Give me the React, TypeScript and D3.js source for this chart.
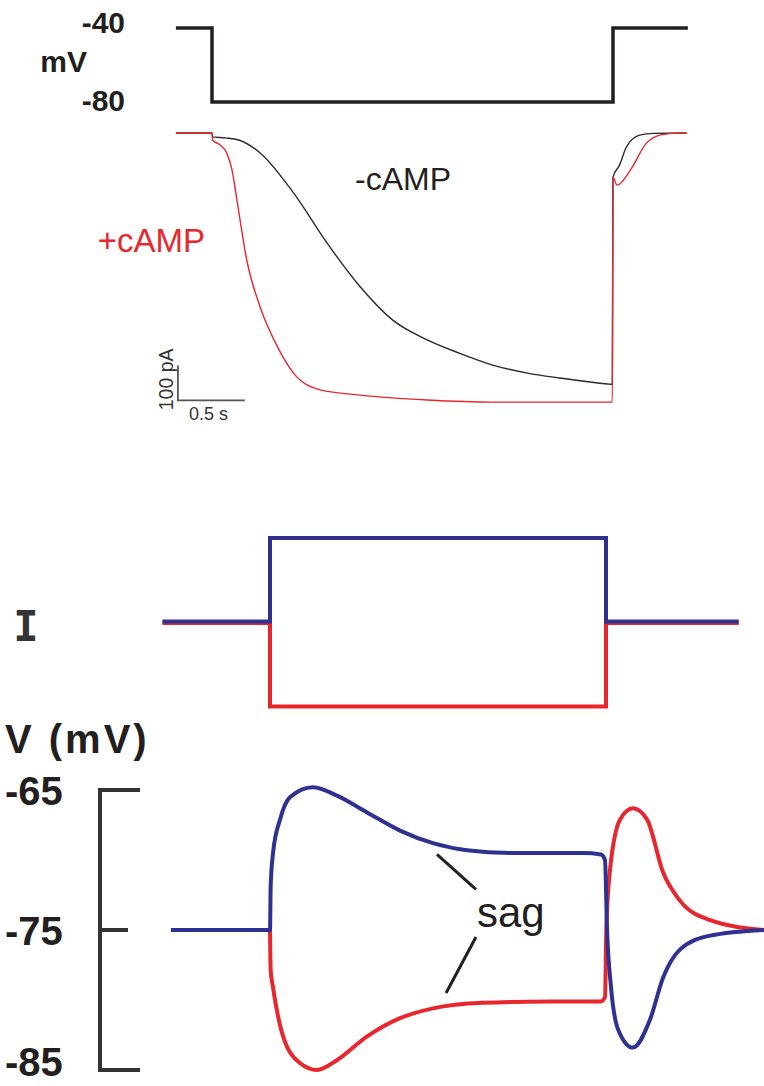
import React, { useEffect, useRef } from 'react';
import * as d3 from 'd3';

type Pt = [number, number];

// voltage-clamp command (s, mV)
const commandStep: Pt[] = [[-0.27, -40], [0, -40], [0, -80], [3, -80], [3, -40], [3.56, -40]];

// Ih current traces (s, pA)
const currentNoCamp: Pt[] = [
  [-0.27, 0], [0, 0], [0.004, -11], [0.1, -14], [0.2, -20], [0.36, -57], [0.61, -171], [0.86, -314],
  [1.11, -440], [1.35, -534], [1.61, -591], [1.85, -629], [2.1, -663], [2.36, -686], [2.6, -700],
  [2.96, -717], [2.995, -718], [3.0, -126], [3.05, -91], [3.1, -40], [3.2, -6], [3.3, -1], [3.55, 0],
];
const currentCamp: Pt[] = [
  [-0.27, 0], [0, 0], [0.004, -20], [0.06, -34], [0.11, -57], [0.15, -106], [0.19, -200], [0.26, -363],
  [0.36, -497], [0.49, -611], [0.61, -686], [0.81, -734], [1.11, -749], [1.61, -763], [2.1, -769],
  [2.995, -769], [3.0, -126], [3.03, -149], [3.13, -106], [3.25, -29], [3.35, -6], [3.45, -1], [3.55, 0],
];

// current-clamp injection (ms, relative amplitude)
const injectDepol: Pt[] = [[-320, 0], [0, 0], [0, 1], [1000, 1], [1000, 0], [1395, 0]];
const injectHyper: Pt[] = [[-320, 0], [0, 0], [0, -1], [1000, -1], [1000, 0], [1395, 0]];

// membrane voltage responses (ms, mV)
const voltageDepol: Pt[] = [
  [-295, -75], [0, -75], [2, -71.9], [9, -69.5], [30, -67.1], [60, -65.5], [128, -64.8], [199, -65.4],
  [289, -66.6], [387, -67.9], [485, -68.8], [586, -69.3], [735, -69.5], [932, -69.5], [985, -69.6],
  [997, -70], [1003, -74.9], [1015, -79.1], [1036, -82.1], [1080, -83.4], [1131, -81.4], [1170, -78.4],
  [1220, -76.4], [1310, -75.4], [1470, -75],
];
const voltageHyper: Pt[] = [
  [0, -75], [2, -77.9], [9, -79.1], [39, -82.6], [89, -84.5], [140, -85], [199, -84.3], [289, -82.6],
  [387, -81.3], [485, -80.6], [634, -80.2], [833, -80.1], [985, -80.1], [997, -79.8], [1001, -74.9],
  [1012, -70.7], [1042, -67.1], [1080, -66.3], [1122, -67.1], [1170, -70.9], [1220, -72.9],
  [1310, -74.3], [1470, -75],
];

const stepTicks = [-40, -80];
const vTicks = [-65, -75, -85];
// "sag" pointer ends (ms, mV)
const sagPointers: [Pt, Pt][] = [
  [[497, -69.6], [613, -72.1]],
  [[613, -75.5], [524, -79.5]],
];

const INK = '#231f20';
const RED = '#e8262e';
const BLUE = '#2e3192';
const SANS = 'Liberation Sans, Arial, sans-serif';

const App = () => {
  const svgRef = useRef<SVGSVGElement | null>(null);

  useEffect(() => {
    const svg = d3.select(svgRef.current);
    svg.selectAll('*').remove();

    // ---- top: voltage clamp ----
    const xTime = d3.scaleLinear().domain([0, 3]).range([212, 613]);
    const yCmd = d3.scaleLinear().domain([-40, -80]).range([28, 102]);
    const yCur = d3.scaleLinear().domain([0, -800]).range([133, 413]);

    const cmdLine = d3.line<Pt>().x(d => xTime(d[0])).y(d => yCmd(d[1]));
    svg.append('path')
      .attr('d', cmdLine(commandStep))
      .attr('fill', 'none')
      .attr('stroke', INK)
      .attr('stroke-width', 3.5);

    stepTicks.forEach((v, i) => {
      svg.append('text')
        .attr('x', 125)
        .attr('y', yCmd(v) + (i === 0 ? 5 : 9))
        .attr('text-anchor', 'end')
        .attr('font-family', SANS)
        .attr('font-weight', 'bold')
        .attr('font-size', 30)
        .attr('fill', INK)
        .text(String(v));
    });
    svg.append('text')
      .attr('x', 87).attr('y', 72)
      .attr('text-anchor', 'end')
      .attr('font-family', SANS)
      .attr('font-weight', 'bold')
      .attr('font-size', 30)
      .attr('fill', INK)
      .text('mV');

    const curLine = d3.line<Pt>().x(d => xTime(d[0])).y(d => yCur(d[1])).curve(d3.curveMonotoneX);
    svg.append('path')
      .attr('d', curLine(currentNoCamp))
      .attr('fill', 'none')
      .attr('stroke', '#2a2a2a')
      .attr('stroke-width', 1.4);
    svg.append('path')
      .attr('d', curLine(currentCamp))
      .attr('fill', 'none')
      .attr('stroke', RED)
      .attr('stroke-width', 1.4);

    svg.append('text')
      .attr('x', 355).attr('y', 190)
      .attr('font-family', SANS)
      .attr('font-size', 32)
      .attr('fill', INK)
      .text('-cAMP');
    svg.append('text')
      .attr('x', 205).attr('y', 252)
      .attr('text-anchor', 'end')
      .attr('font-family', SANS)
      .attr('font-size', 33)
      .attr('fill', RED)
      .text('+cAMP');

    // scale bar: 0.5 s x 100 pA
    const sbX = xTime(-0.255);
    const sbY = yCur(-764);
    svg.append('path')
      .attr('d', `M${sbX},${sbY - (yCur(-100) - yCur(0))}V${sbY}H${sbX + xTime(0.5) - xTime(0)}`)
      .attr('fill', 'none')
      .attr('stroke', '#555')
      .attr('stroke-width', 1.8);
    svg.append('text')
      .attr('transform', `translate(${sbX - 5},${sbY - 21}) rotate(-90)`)
      .attr('text-anchor', 'middle')
      .attr('font-family', SANS)
      .attr('font-size', 19.5)
      .attr('fill', '#333')
      .text('100 pA');
    svg.append('text')
      .attr('x', sbX + 11).attr('y', sbY + 20)
      .attr('font-family', SANS)
      .attr('font-size', 18)
      .attr('fill', '#333')
      .text('0.5 s');

    // ---- bottom: current clamp ----
    const xMs = d3.scaleLinear().domain([0, 1000]).range([270, 606]);
    const yI = d3.scaleLinear().domain([1, -1]).range([538, 705]);
    const yV = d3.scaleLinear().domain([-65, -85]).range([790, 1070]);

    const iLine = d3.line<Pt>().x(d => xMs(d[0])).y(d => yI(d[1]));
    svg.append('path')
      .attr('d', iLine(injectHyper))
      .attr('transform', 'translate(0,1.5)')
      .attr('fill', 'none')
      .attr('stroke', RED)
      .attr('stroke-width', 4);
    svg.append('path')
      .attr('d', iLine(injectDepol))
      .attr('fill', 'none')
      .attr('stroke', BLUE)
      .attr('stroke-width', 4);

    svg.append('text')
      .attr('x', 26).attr('y', 641)
      .attr('text-anchor', 'middle')
      .attr('font-family', 'DejaVu Sans Mono, monospace')
      .attr('font-weight', 'bold')
      .attr('font-size', 42)
      .attr('fill', '#333')
      .text('I');

    svg.append('text')
      .attr('x', 5).attr('y', 753)
      .attr('font-family', SANS)
      .attr('font-weight', 'bold')
      .attr('font-size', 40)
      .attr('letter-spacing', 3)
      .attr('fill', INK)
      .text('V (mV)');

    // bracket axis
    svg.append('path')
      .attr('d', `M140,${yV(-65)}H100V${yV(-85)}H140M100,${yV(-75)}H128`)
      .attr('fill', 'none')
      .attr('stroke', '#333')
      .attr('stroke-width', 4);
    vTicks.forEach(v => {
      svg.append('text')
        .attr('x', 5)
        .attr('y', Math.min(yV(v) + 15, 1076))
        .attr('font-family', SANS)
        .attr('font-weight', 'bold')
        .attr('font-size', 40)
        .attr('fill', INK)
        .text(String(v));
    });

    const vLine = d3.line<Pt>().x(d => xMs(d[0])).y(d => yV(d[1])).curve(d3.curveMonotoneX);
    svg.append('path')
      .attr('d', vLine(voltageHyper))
      .attr('fill', 'none')
      .attr('stroke', RED)
      .attr('stroke-width', 4);
    svg.append('path')
      .attr('d', vLine(voltageDepol))
      .attr('fill', 'none')
      .attr('stroke', BLUE)
      .attr('stroke-width', 4);

    sagPointers.forEach(([a, b]) => {
      svg.append('line')
        .attr('x1', xMs(a[0])).attr('y1', yV(a[1]))
        .attr('x2', xMs(b[0])).attr('y2', yV(b[1]))
        .attr('stroke', INK)
        .attr('stroke-width', 3);
    });
    svg.append('text')
      .attr('x', 477).attr('y', 927)
      .attr('font-family', SANS)
      .attr('font-size', 42)
      .attr('fill', INK)
      .text('sag');
  }, []);

  return (
    <svg
      ref={svgRef}
      width={764}
      height={1086}
      style={{ position: 'absolute', left: 0, top: 0, background: '#fff' }}
    />
  );
};

export default App;
